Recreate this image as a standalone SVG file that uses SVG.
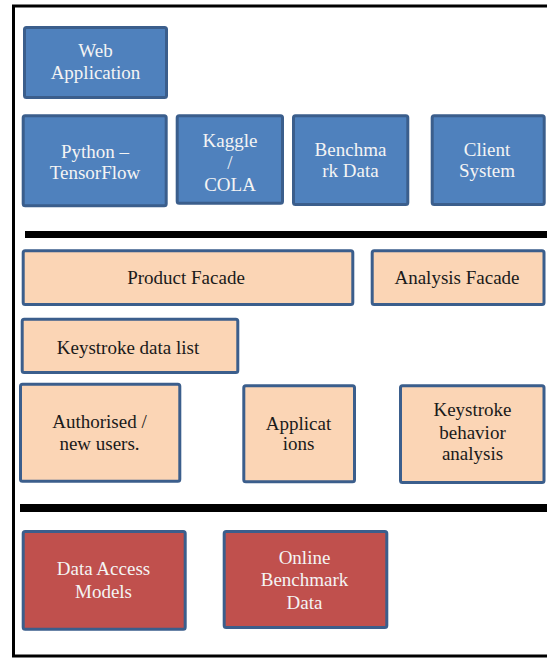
<svg xmlns="http://www.w3.org/2000/svg" width="547" height="658" viewBox="0 0 547 658" font-family="Liberation Serif, DejaVu Serif, serif">
<style>
  .box{stroke:#3b5e8c;stroke-width:3}
  .blue{fill:#4f81bd}
  .peach{fill:#fbd5b5}
  .red{fill:#c0504d}
  text{font-size:19px;text-anchor:middle}
  .lt{fill:#f4f4f4}
  .dk{fill:#1a1a1a}
  .bar{fill:#000}
</style>
<rect x="0" y="0" width="547" height="658" fill="#fff"/>
<rect x="13.5" y="6" width="540" height="650" fill="none" stroke="#000" stroke-width="3"/>
<g id="separators">
  <rect class="bar" x="25" y="231" width="522" height="7"/>
  <rect class="bar" x="20" y="504" width="527" height="8"/>
</g>
<g id="web-application">
  <rect class="box blue" x="24.5" y="27.5" width="142" height="70" rx="2"/>
  <text class="lt" x="95.5" y="57">Web</text>
  <text class="lt" x="95.5" y="79">Application</text>
</g>
<g id="python-tensorflow">
  <rect class="box blue" x="23.2" y="115.8" width="143" height="90" rx="2"/>
  <text class="lt" x="95" y="158">Python –</text>
  <text class="lt" x="95" y="179">TensorFlow</text>
</g>
<g id="kaggle-cola">
  <rect class="box blue" x="177.2" y="115.8" width="105.3" height="87.4" rx="2"/>
  <text class="lt" x="230" y="147">Kaggle</text>
  <text class="lt" x="230" y="169">/</text>
  <text class="lt" x="230" y="191">COLA</text>
</g>
<g id="benchmark-data">
  <rect class="box blue" x="293.5" y="115.8" width="114.3" height="88.7" rx="2"/>
  <text class="lt" x="350.5" y="156">Benchma</text>
  <text class="lt" x="350.5" y="177">rk Data</text>
</g>
<g id="client-system">
  <rect class="box blue" x="432.2" y="115.8" width="112" height="88.7" rx="2"/>
  <text class="lt" x="487" y="156">Client</text>
  <text class="lt" x="487" y="177">System</text>
</g>
<g id="product-facade">
  <rect class="box peach" x="23.2" y="250.8" width="329.6" height="53.7" rx="2"/>
  <text class="dk" x="186" y="283.5">Product Facade</text>
</g>
<g id="analysis-facade">
  <rect class="box peach" x="372.2" y="250.8" width="171.8" height="53.7" rx="2"/>
  <text class="dk" x="457" y="283.5">Analysis Facade</text>
</g>
<g id="keystroke-data-list">
  <rect class="box peach" x="22.2" y="319.2" width="215.6" height="53.3" rx="2"/>
  <text class="dk" x="128" y="353.5">Keystroke data list</text>
</g>
<g id="authorised-users">
  <rect class="box peach" x="20.5" y="384.2" width="159.3" height="97" rx="2"/>
  <text class="dk" x="99.5" y="427.5">Authorised /</text>
  <text class="dk" x="99.5" y="450">new users.</text>
</g>
<g id="applications">
  <rect class="box peach" x="243.8" y="385.8" width="110.7" height="96" rx="2"/>
  <text class="dk" x="298.5" y="429.5">Applicat</text>
  <text class="dk" x="298.5" y="449.5">ions</text>
</g>
<g id="keystroke-behavior-analysis">
  <rect class="box peach" x="400.5" y="385.8" width="143.5" height="96.7" rx="2"/>
  <text class="dk" x="472.5" y="416">Keystroke</text>
  <text class="dk" x="472.5" y="438.5">behavior</text>
  <text class="dk" x="472.5" y="460">analysis</text>
</g>
<g id="data-access-models">
  <rect class="box red" x="23.2" y="531.5" width="162" height="97.7" rx="2"/>
  <text class="lt" x="103.5" y="575">Data Access</text>
  <text class="lt" x="103.5" y="597.5">Models</text>
</g>
<g id="online-benchmark-data">
  <rect class="box red" x="224.2" y="531.5" width="162.6" height="96" rx="2"/>
  <text class="lt" x="304.5" y="563.5">Online</text>
  <text class="lt" x="304.5" y="586">Benchmark</text>
  <text class="lt" x="304.5" y="608.5">Data</text>
</g>
<g id="connectors"></g>
</svg>
